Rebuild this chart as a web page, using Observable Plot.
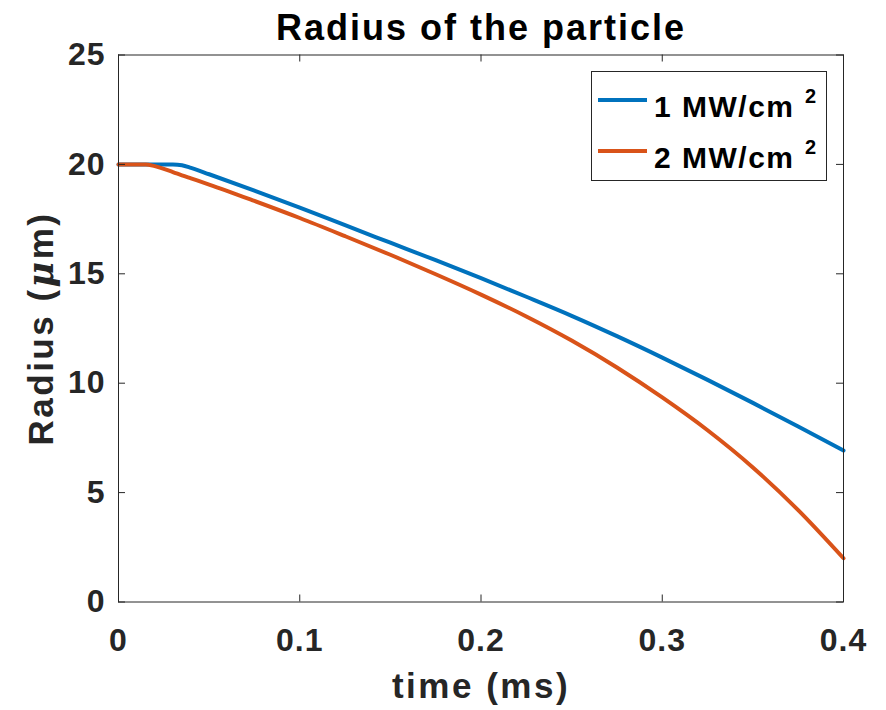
<!DOCTYPE html>
<html><head><meta charset="utf-8">
<script src="https://cdn.jsdelivr.net/npm/d3@7"></script>
<script src="https://cdn.jsdelivr.net/npm/@observablehq/plot@0.6"></script>
<style>
html,body{margin:0;padding:0;background:#fff;}
#chart{position:relative;width:886px;height:710px;}
</style></head><body><div id="chart"></div>
<script>
const title = "Radius of the particle";
const xLabel = "time (ms)";
const yLabel = "Radius (μm)";
const seriesNames = ["1 MW/cm", "2 MW/cm"];
const seriesSup = "2";
const seriesColors = ["#0072BD", "#D95319"];
const times   = [0, 0.015, 0.02, 0.03, 0.035, 0.04, 0.05, 0.075, 0.1, 0.125, 0.15, 0.175, 0.2, 0.225, 0.25, 0.275, 0.3, 0.325, 0.35, 0.375, 0.4];
const radius1 = [20, 20, 20, 20, 19.96, 19.84, 19.55, 18.8, 18.03, 17.22, 16.42, 15.62, 14.8, 13.95, 13.08, 12.15, 11.17, 10.15, 9.1, 8.02, 6.92];
const radius2 = [20, 20, 19.92, 19.65, 19.5, 19.36, 19.08, 18.33, 17.55, 16.72, 15.87, 14.98, 14.05, 13.05, 11.95, 10.72, 9.35, 7.85, 6.15, 4.2, 2.0];
const xTicks = [0, 0.1, 0.2, 0.3, 0.4];
const yTicks = [0, 5, 10, 15, 20, 25];

const data = [];
times.forEach((t, i) => {
  data.push({t, r: radius1[i], s: seriesNames[0]});
  data.push({t, r: radius2[i], s: seriesNames[1]});
});

const W = 886, H = 710, mt = 54.5, mb = 108.5, ml = 118, mr = 43;
const fw = W - ml - mr, fh = H - mt - mb;
const tickLen = 7;
const ink = "#262626";
const font = "'Liberation Sans', Arial, Helvetica, sans-serif";

const plot = Plot.plot({
  width: W, height: H,
  marginTop: mt, marginBottom: mb, marginLeft: ml, marginRight: mr,
  style: {fontFamily: font, fontWeight: "bold", fontSize: "32px", color: ink, background: "#fff", overflow: "visible"},
  x: {domain: [0, 0.4]},
  y: {domain: [0, 25]},
  color: {domain: seriesNames, range: seriesColors},
  marks: [
    Plot.line(data, {x: "t", y: "r", z: "s", stroke: "s", strokeWidth: 4, curve: "monotone-x"}),
    Plot.frame({stroke: ink, strokeWidth: 1}),
    Plot.ruleX(xTicks, {x: d => d, insetTop: fh - tickLen, stroke: ink}),
    Plot.ruleX(xTicks, {x: d => d, insetBottom: fh - tickLen, stroke: ink}),
    Plot.ruleY(yTicks, {y: d => d, insetRight: fw - tickLen, stroke: ink}),
    Plot.ruleY(yTicks, {y: d => d, insetLeft: fw - tickLen, stroke: ink}),
    Plot.axisX(xTicks, {tickSize: 0, tickPadding: 26, tickFormat: d => String(d), label: null, fontSize: 32}),
    Plot.axisY(yTicks, {tickSize: 0, tickPadding: 13, tickFormat: d => String(d), label: null, fontSize: 32}),
    Plot.text([title], {frameAnchor: "top", dy: -15.5, lineAnchor: "bottom", textAnchor: "middle", text: d => d, fontSize: 36, fill: "#000"}),
    Plot.text([xLabel], {frameAnchor: "bottom", dy: 96, lineAnchor: "bottom", textAnchor: "middle", text: d => d, fontSize: 35, fill: ink}),
    Plot.text([yLabel], {frameAnchor: "left", dx: -77, rotate: -90, textAnchor: "middle", text: d => d, fontSize: 35, fill: ink})
  ]
});

const svg = d3.select(plot);
svg.selectAll("text").each(function() {
  const t = this.textContent;
  if (t === title) this.style.letterSpacing = "2px";
  else if (t === xLabel) this.style.letterSpacing = "2.5px";
  else if (t === yLabel) {
    this.style.letterSpacing = "2.5px";
    this.setAttribute("text-anchor", "middle");
    const el = d3.select(this);
    el.text(null);
    el.append("tspan").text("Radius (");
    el.append("tspan").attr("font-style", "italic").attr("font-family", "'DejaVu Serif', serif").text("μ");
    el.append("tspan").text("m)");
  } else if (/^[0-9.]+$/.test(t)) this.style.letterSpacing = "1px";
});

// legend
const lg = svg.append("g").attr("font-family", font).attr("font-weight", "bold")
  .attr("fill", "#000").attr("text-anchor", "start");
lg.append("rect").attr("x", 591.5).attr("y", 71.5).attr("width", 235).attr("height", 109)
  .attr("fill", "#fff").attr("stroke", ink).attr("stroke-width", 1);
seriesNames.forEach((name, i) => {
  const yy = 100 + 51 * i;
  lg.append("line").attr("x1", 598).attr("x2", 647).attr("y1", yy).attr("y2", yy)
    .attr("stroke", seriesColors[i]).attr("stroke-width", 4);
  lg.append("text").attr("x", 654).attr("y", yy + 17).attr("font-size", 30)
    .attr("text-anchor", "start").style("letter-spacing", "1.5px").text(name);
  lg.append("text").attr("x", 805).attr("y", yy + 2.5).attr("font-size", 20)
    .attr("text-anchor", "start").text(seriesSup);
});

document.getElementById("chart").appendChild(plot);
</script>
</body></html>
